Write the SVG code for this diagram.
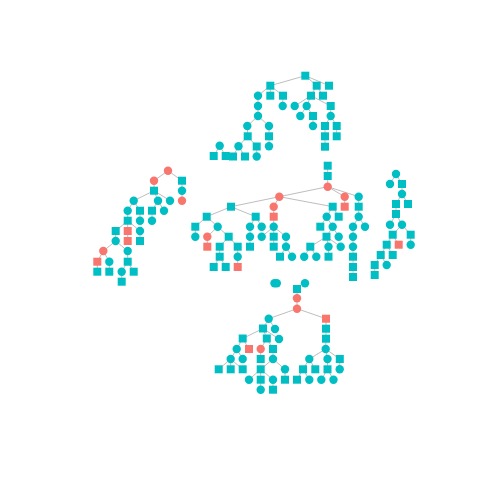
<svg xmlns="http://www.w3.org/2000/svg" width="480" height="480" viewBox="0 0 480 480">
<style>
.t{fill:#00BFC4}
.r{fill:#F8766D}
#edges line{stroke:#BEBEBE;stroke-width:1}
</style>
<rect width="480" height="480" fill="#FFFFFF"/>
<g id="edges">
<line x1="305.3" y1="75.7" x2="270.3" y2="85.7"/><line x1="305.3" y1="75.7" x2="316.7" y2="85.7"/><line x1="305.3" y1="75.7" x2="329" y2="85.7"/>
<line x1="270.3" y1="85.7" x2="258" y2="95.7"/><line x1="270.3" y1="85.7" x2="270.3" y2="95.7"/><line x1="270.3" y1="85.7" x2="283" y2="95.7"/>
<line x1="316.7" y1="85.7" x2="311" y2="95.7"/><line x1="316.7" y1="85.7" x2="323" y2="95.7"/>
<line x1="258" y1="95.7" x2="258" y2="106"/><line x1="283" y1="95.7" x2="282.7" y2="106"/>
<line x1="311" y1="95.7" x2="294.7" y2="106"/><line x1="311" y1="95.7" x2="306.7" y2="106"/><line x1="311" y1="95.7" x2="330.7" y2="106"/>
<line x1="258" y1="106" x2="258" y2="116"/><line x1="306.7" y1="106" x2="300.3" y2="116"/><line x1="306.7" y1="106" x2="313" y2="116"/>
<line x1="330.7" y1="106" x2="330.7" y2="116"/><line x1="258" y1="116" x2="247.3" y2="126"/><line x1="258" y1="116" x2="269" y2="126"/>
<line x1="313" y1="116" x2="313" y2="126"/><line x1="330.7" y1="116" x2="325" y2="126"/><line x1="330.7" y1="116" x2="336.7" y2="126"/>
<line x1="247.3" y1="126" x2="247.7" y2="136.3"/><line x1="269" y1="126" x2="269" y2="136.3"/><line x1="325" y1="126" x2="325" y2="136.3"/><line x1="336.7" y1="126" x2="336.7" y2="136.3"/>
<line x1="247.7" y1="136.3" x2="238.5" y2="146.2"/><line x1="247.7" y1="136.3" x2="256.7" y2="146.5"/><line x1="269" y1="136.3" x2="269" y2="146.3"/><line x1="325" y1="136.3" x2="325" y2="146.7"/>
<line x1="238.5" y1="146.2" x2="233" y2="156.5"/><line x1="238.5" y1="146.2" x2="245" y2="156.5"/><line x1="256.7" y1="146.5" x2="256.7" y2="156.5"/>
<line x1="219.7" y1="145.8" x2="213.7" y2="156"/><line x1="219.7" y1="145.8" x2="225.7" y2="156"/>
<line x1="168" y1="170.7" x2="154" y2="180.7"/><line x1="168" y1="170.7" x2="182" y2="180.7"/><line x1="154" y1="180.7" x2="154" y2="190.7"/>
<line x1="182" y1="180.7" x2="182" y2="190.7"/><line x1="182" y1="190.7" x2="182" y2="200.7"/>
<line x1="154" y1="190.7" x2="133.7" y2="200.7"/><line x1="154" y1="190.7" x2="158" y2="200.7"/><line x1="154" y1="190.7" x2="170" y2="200.7"/>
<line x1="133.7" y1="200.7" x2="127.7" y2="210.7"/><line x1="133.7" y1="200.7" x2="140" y2="210.7"/><line x1="158" y1="200.7" x2="152" y2="210.7"/><line x1="158" y1="200.7" x2="164" y2="210.7"/>
<line x1="127.7" y1="210.7" x2="127.7" y2="220.7"/><line x1="140" y1="210.7" x2="140" y2="220.7"/><line x1="152" y1="210.7" x2="152" y2="220.7"/>
<line x1="127.7" y1="220.7" x2="115.7" y2="231"/><line x1="127.7" y1="220.7" x2="127.7" y2="231"/><line x1="127.7" y1="220.7" x2="140" y2="231"/>
<line x1="115.7" y1="231" x2="115.7" y2="241"/><line x1="127.7" y1="231" x2="127.7" y2="241"/><line x1="140" y1="231" x2="140" y2="241"/>
<line x1="115.7" y1="241" x2="103.3" y2="251"/><line x1="115.7" y1="241" x2="127.7" y2="251"/>
<line x1="103.3" y1="251" x2="97.3" y2="261.7"/><line x1="103.3" y1="251" x2="109.3" y2="261.7"/><line x1="127.7" y1="251" x2="127.7" y2="261.7"/>
<line x1="97.3" y1="261.7" x2="97.3" y2="271.7"/><line x1="109.3" y1="261.7" x2="109.3" y2="271.7"/><line x1="127.7" y1="261.7" x2="121.7" y2="271.7"/><line x1="127.7" y1="261.7" x2="133.7" y2="271.7"/>
<line x1="121.7" y1="271.7" x2="121.7" y2="281.7"/>
<line x1="327.7" y1="165.7" x2="327.7" y2="176"/><line x1="327.7" y1="176" x2="327.7" y2="186.7"/>
<line x1="327.7" y1="186.7" x2="279.3" y2="196.7"/><line x1="327.7" y1="186.7" x2="344.7" y2="196.7"/><line x1="327.7" y1="186.7" x2="358.7" y2="196.7"/>
<line x1="279.3" y1="196.7" x2="231" y2="206.7"/><line x1="279.3" y1="196.7" x2="273.7" y2="206.7"/><line x1="279.3" y1="196.7" x2="332.7" y2="206.7"/>
<line x1="344.7" y1="196.7" x2="344.7" y2="206.7"/><line x1="358.7" y1="196.7" x2="358.7" y2="206.7"/><line x1="358.7" y1="206.7" x2="358.7" y2="216.7"/>
<line x1="358.7" y1="216.7" x2="353" y2="226.7"/><line x1="358.7" y1="216.7" x2="365" y2="226.7"/>
<line x1="353" y1="226.7" x2="353" y2="277"/>
<line x1="231" y1="206.7" x2="206.7" y2="216.7"/><line x1="231" y1="206.7" x2="255.7" y2="216.7"/>
<line x1="206.7" y1="216.7" x2="195.3" y2="226.7"/><line x1="206.7" y1="216.7" x2="217.7" y2="226.7"/><line x1="195.3" y1="226.7" x2="195.3" y2="236.7"/>
<line x1="217.7" y1="226.7" x2="207.3" y2="236.7"/><line x1="217.7" y1="226.7" x2="228.7" y2="236.7"/><line x1="207.3" y1="236.7" x2="207.3" y2="246.7"/>
<line x1="228.7" y1="236.7" x2="219.7" y2="246.7"/><line x1="228.7" y1="236.7" x2="237.7" y2="246.7"/><line x1="219.7" y1="246.7" x2="219.7" y2="256.7"/>
<line x1="219.7" y1="256.7" x2="213.7" y2="267"/><line x1="219.7" y1="256.7" x2="225.7" y2="267"/><line x1="237.7" y1="246.7" x2="237.7" y2="267"/>
<line x1="255.7" y1="216.7" x2="250" y2="226.7"/><line x1="255.7" y1="216.7" x2="261.7" y2="226.7"/><line x1="250" y1="226.7" x2="250" y2="246.7"/>
<line x1="273.7" y1="206.7" x2="273.7" y2="226.7"/>
<line x1="273.7" y1="226.7" x2="261.7" y2="236.7"/><line x1="273.7" y1="226.7" x2="273.7" y2="236.7"/><line x1="273.7" y1="226.7" x2="286" y2="236.7"/>
<line x1="273.7" y1="236.7" x2="273.7" y2="246.7"/><line x1="286" y1="236.7" x2="286" y2="246.7"/>
<line x1="286" y1="246.7" x2="280" y2="256.7"/><line x1="286" y1="246.7" x2="292" y2="256.7"/>
<line x1="332.7" y1="206.7" x2="326.7" y2="216.7"/><line x1="332.7" y1="206.7" x2="338.7" y2="216.7"/>
<line x1="326.7" y1="216.7" x2="320.3" y2="226.7"/><line x1="326.7" y1="216.7" x2="332.7" y2="226.7"/>
<line x1="332.7" y1="226.7" x2="326.5" y2="236.7"/><line x1="332.7" y1="226.7" x2="338.7" y2="236.7"/>
<line x1="326.5" y1="236.7" x2="310.3" y2="246.7"/><line x1="326.5" y1="236.7" x2="328.5" y2="246.7"/><line x1="326.5" y1="236.7" x2="340.7" y2="246.7"/>
<line x1="310.3" y1="246.7" x2="304.2" y2="256.7"/><line x1="310.3" y1="246.7" x2="316.3" y2="256.7"/><line x1="328.5" y1="246.7" x2="328.5" y2="256.7"/>
<line x1="396" y1="174" x2="390" y2="184"/><line x1="396" y1="174" x2="402" y2="184"/><line x1="402" y1="184" x2="402" y2="194"/>
<line x1="402" y1="194" x2="396" y2="204"/><line x1="402" y1="194" x2="408" y2="204"/><line x1="396" y1="204" x2="396" y2="214"/>
<line x1="396" y1="214" x2="390" y2="224.7"/><line x1="396" y1="214" x2="402" y2="224.7"/>
<line x1="402" y1="224.7" x2="392.7" y2="234.7"/><line x1="402" y1="224.7" x2="410.7" y2="234.7"/>
<line x1="392.7" y1="234.7" x2="386.7" y2="244.7"/><line x1="392.7" y1="234.7" x2="398.7" y2="244.7"/><line x1="410.7" y1="234.7" x2="410.7" y2="244.7"/>
<line x1="386.7" y1="244.7" x2="380.7" y2="255"/><line x1="386.7" y1="244.7" x2="392.7" y2="255"/>
<line x1="380.7" y1="255" x2="374.7" y2="265"/><line x1="380.7" y1="255" x2="386.7" y2="265"/><line x1="374.7" y1="265" x2="374.7" y2="275"/>
<line x1="297" y1="289" x2="297" y2="308.7"/>
<line x1="297" y1="308.7" x2="268.7" y2="318.7"/><line x1="297" y1="308.7" x2="326" y2="318.7"/>
<line x1="268.7" y1="318.7" x2="263" y2="328.5"/><line x1="268.7" y1="318.7" x2="275" y2="329"/>
<line x1="263" y1="328.5" x2="242.7" y2="338.5"/><line x1="263" y1="328.5" x2="266.8" y2="338.5"/><line x1="263" y1="328.5" x2="279" y2="339"/>
<line x1="242.7" y1="338.5" x2="236.7" y2="349"/><line x1="242.7" y1="338.5" x2="249" y2="349"/>
<line x1="266.8" y1="338.5" x2="260.7" y2="349"/><line x1="266.8" y1="338.5" x2="273" y2="349"/>
<line x1="236.7" y1="349" x2="230.7" y2="359"/><line x1="236.7" y1="349" x2="242.7" y2="359"/>
<line x1="230.7" y1="359" x2="218.7" y2="369.3"/><line x1="230.7" y1="359" x2="230.7" y2="369.3"/><line x1="230.7" y1="359" x2="242.7" y2="369.3"/>
<line x1="260.7" y1="349" x2="260.7" y2="359"/><line x1="273" y1="349" x2="273" y2="359"/>
<line x1="273" y1="359" x2="260.7" y2="369.3"/><line x1="273" y1="359" x2="285" y2="369.3"/>
<line x1="260.7" y1="369.3" x2="249" y2="379.7"/><line x1="260.7" y1="369.3" x2="260.7" y2="379.7"/><line x1="260.7" y1="369.3" x2="273" y2="379.7"/>
<line x1="260.7" y1="379.7" x2="260.7" y2="389.7"/><line x1="273" y1="379.7" x2="273" y2="389.7"/><line x1="285" y1="369.3" x2="285" y2="379.7"/>
<line x1="326" y1="318.7" x2="326" y2="338.7"/><line x1="326" y1="338.7" x2="325.7" y2="349"/>
<line x1="325.7" y1="349" x2="309.3" y2="359"/><line x1="325.7" y1="349" x2="327.5" y2="359"/><line x1="325.7" y1="349" x2="339.8" y2="359"/>
<line x1="309.3" y1="359" x2="303" y2="369.3"/><line x1="309.3" y1="359" x2="315.3" y2="369.3"/>
<line x1="303" y1="369.3" x2="297" y2="379.7"/><line x1="303" y1="369.3" x2="309.3" y2="379.7"/>
<line x1="327.5" y1="359" x2="327.5" y2="369.3"/><line x1="327.5" y1="369.3" x2="321.3" y2="379.7"/><line x1="327.5" y1="369.3" x2="333.5" y2="379.7"/>
<line x1="339.8" y1="359" x2="339.7" y2="369.3"/>
</g>
<g id="A1"><rect class="t" x="301.3" y="71.7" width="8" height="8"/></g>
<g id="A2"><rect class="t" x="266.3" y="81.7" width="8" height="8"/></g>
<g id="A3"><rect class="t" x="312.7" y="81.7" width="8" height="8"/></g>
<g id="A4"><rect class="t" x="325" y="81.7" width="8" height="8"/></g>
<g id="A5"><circle class="t" cx="258" cy="95.7" r="4.2"/></g>
<g id="A6"><rect class="t" x="266.3" y="91.7" width="8" height="8"/></g>
<g id="A7"><rect class="t" x="279" y="91.7" width="8" height="8"/></g>
<g id="A8"><rect class="t" x="307" y="91.7" width="8" height="8"/></g>
<g id="A9"><rect class="t" x="319" y="91.7" width="8" height="8"/></g>
<g id="A10"><circle class="t" cx="258" cy="106" r="4.2"/></g>
<g id="A11"><circle class="t" cx="282.7" cy="106" r="4.2"/></g>
<g id="A12"><circle class="t" cx="294.7" cy="106" r="4.2"/></g>
<g id="A13"><circle class="t" cx="306.7" cy="106" r="4.2"/></g>
<g id="A14"><rect class="t" x="326.7" y="102" width="8" height="8"/></g>
<g id="A15"><circle class="t" cx="258" cy="116" r="4.2"/></g>
<g id="A16"><circle class="t" cx="300.3" cy="116" r="4.2"/></g>
<g id="A17"><rect class="t" x="309" y="112" width="8" height="8"/></g>
<g id="A18"><circle class="t" cx="330.7" cy="116" r="4.2"/></g>
<g id="A19"><circle class="t" cx="247.3" cy="126" r="4.2"/></g>
<g id="A20"><circle class="t" cx="269" cy="126" r="4.2"/></g>
<g id="A21"><circle class="t" cx="313" cy="126" r="4.2"/></g>
<g id="A22"><rect class="t" x="321" y="122" width="8" height="8"/></g>
<g id="A23"><rect class="t" x="332.7" y="122" width="8" height="8"/></g>
<g id="A24"><rect class="t" x="243.7" y="132.3" width="8" height="8"/></g>
<g id="A25"><rect class="t" x="265" y="132.3" width="8" height="8"/></g>
<g id="A26"><rect class="t" x="321" y="132.3" width="8" height="8"/></g>
<g id="A27"><rect class="t" x="332.7" y="132.3" width="8" height="8"/></g>
<g id="A28"><circle class="t" cx="238.5" cy="146.2" r="4.2"/></g>
<g id="A29"><rect class="t" x="252.7" y="142.5" width="8" height="8"/></g>
<g id="A30"><circle class="t" cx="269" cy="146.3" r="4.2"/></g>
<g id="A31"><rect class="t" x="321" y="142.7" width="8" height="8"/></g>
<g id="A32"><rect class="t" x="229" y="152.5" width="8" height="8"/></g>
<g id="A33"><rect class="t" x="241" y="152.5" width="8" height="8"/></g>
<g id="A34"><circle class="t" cx="256.7" cy="156.5" r="4.2"/></g>
<g id="B1"><circle class="t" cx="219.7" cy="145.8" r="4.2"/></g>
<g id="B2"><rect class="t" x="209.7" y="152" width="8" height="8"/></g>
<g id="B3"><rect class="t" x="221.7" y="152" width="8" height="8"/></g>
<g id="C1"><circle class="r" cx="168" cy="170.7" r="4.2"/></g>
<g id="C2"><circle class="r" cx="154" cy="180.7" r="4.2"/></g>
<g id="C3"><rect class="t" x="178" y="176.7" width="8" height="8"/></g>
<g id="C4"><rect class="t" x="150" y="186.7" width="8" height="8"/></g>
<g id="C5"><circle class="t" cx="182" cy="190.7" r="4.2"/></g>
<g id="C6"><circle class="t" cx="133.7" cy="200.7" r="4.2"/></g>
<g id="C7"><circle class="t" cx="158" cy="200.7" r="4.2"/></g>
<g id="C8"><circle class="t" cx="170" cy="200.7" r="4.2"/></g>
<g id="C9"><circle class="r" cx="182" cy="200.7" r="4.2"/></g>
<g id="C10"><circle class="t" cx="127.7" cy="210.7" r="4.2"/></g>
<g id="C11"><rect class="t" x="136" y="206.7" width="8" height="8"/></g>
<g id="C12"><rect class="t" x="148" y="206.7" width="8" height="8"/></g>
<g id="C13"><circle class="t" cx="164" cy="210.7" r="4.2"/></g>
<g id="C14"><rect class="t" x="123.7" y="216.7" width="8" height="8"/></g>
<g id="C15"><circle class="t" cx="140" cy="220.7" r="4.2"/></g>
<g id="C16"><circle class="t" cx="152" cy="220.7" r="4.2"/></g>
<g id="C17"><rect class="t" x="111.7" y="227" width="8" height="8"/></g>
<g id="C18"><rect class="r" x="123.7" y="227" width="8" height="8"/></g>
<g id="C19"><circle class="t" cx="140" cy="231" r="4.2"/></g>
<g id="C20"><circle class="t" cx="115.7" cy="241" r="4.2"/></g>
<g id="C21"><rect class="r" x="123.7" y="237" width="8" height="8"/></g>
<g id="C22"><rect class="t" x="136" y="237" width="8" height="8"/></g>
<g id="C23"><circle class="r" cx="103.3" cy="251" r="4.2"/></g>
<g id="C24"><circle class="t" cx="127.7" cy="251" r="4.2"/></g>
<g id="C25"><rect class="r" x="93.3" y="257.7" width="8" height="8"/></g>
<g id="C26"><circle class="t" cx="109.3" cy="261.7" r="4.2"/></g>
<g id="C27"><rect class="t" x="123.7" y="257.7" width="8" height="8"/></g>
<g id="C28"><rect class="t" x="93.3" y="267.7" width="8" height="8"/></g>
<g id="C29"><rect class="t" x="105.3" y="267.7" width="8" height="8"/></g>
<g id="C30"><circle class="t" cx="121.7" cy="271.7" r="4.2"/></g>
<g id="C31"><rect class="t" x="129.7" y="267.7" width="8" height="8"/></g>
<g id="C32"><rect class="t" x="117.7" y="277.7" width="8" height="8"/></g>
<g id="D1"><rect class="t" x="323.7" y="161.7" width="8" height="8"/></g>
<g id="D2"><rect class="t" x="323.7" y="172" width="8" height="8"/></g>
<g id="D3"><circle class="r" cx="327.7" cy="186.7" r="4.2"/></g>
<g id="D4"><circle class="r" cx="279.3" cy="196.7" r="4.2"/></g>
<g id="D5"><circle class="r" cx="344.7" cy="196.7" r="4.2"/></g>
<g id="D6"><circle class="t" cx="358.7" cy="196.7" r="4.2"/></g>
<g id="D7"><rect class="t" x="227" y="202.7" width="8" height="8"/></g>
<g id="D8"><circle class="r" cx="273.7" cy="206.7" r="4.2"/></g>
<g id="D9"><rect class="t" x="328.7" y="202.7" width="8" height="8"/></g>
<g id="D10"><rect class="r" x="340.7" y="202.7" width="8" height="8"/></g>
<g id="D11"><rect class="t" x="354.7" y="202.7" width="8" height="8"/></g>
<g id="D12"><rect class="t" x="202.7" y="212.7" width="8" height="8"/></g>
<g id="D13"><rect class="t" x="251.7" y="212.7" width="8" height="8"/></g>
<g id="D14"><rect class="r" x="269.7" y="212.7" width="8" height="8"/></g>
<g id="D15"><circle class="t" cx="326.7" cy="216.7" r="4.2"/></g>
<g id="D16"><rect class="t" x="334.7" y="212.7" width="8" height="8"/></g>
<g id="D17"><circle class="t" cx="358.7" cy="216.7" r="4.2"/></g>
<g id="D18"><rect class="t" x="191.3" y="222.7" width="8" height="8"/></g>
<g id="D19"><circle class="t" cx="217.7" cy="226.7" r="4.2"/></g>
<g id="D20"><circle class="t" cx="250" cy="226.7" r="4.2"/></g>
<g id="D21"><circle class="t" cx="261.7" cy="226.7" r="4.2"/></g>
<g id="D22"><circle class="t" cx="273.7" cy="226.7" r="4.2"/></g>
<g id="D23"><rect class="t" x="316.3" y="222.7" width="8" height="8"/></g>
<g id="D24"><circle class="t" cx="332.7" cy="226.7" r="4.2"/></g>
<g id="D25"><circle class="t" cx="353" cy="226.7" r="4.2"/></g>
<g id="D26"><circle class="t" cx="365" cy="226.7" r="4.2"/></g>
<g id="D27"><circle class="t" cx="195.3" cy="236.7" r="4.2"/></g>
<g id="D28"><circle class="r" cx="207.3" cy="236.7" r="4.2"/></g>
<g id="D29"><rect class="t" x="224.7" y="232.7" width="8" height="8"/></g>
<g id="D30"><circle class="t" cx="250" cy="236.7" r="4.2"/></g>
<g id="D31"><circle class="t" cx="261.7" cy="236.7" r="4.2"/></g>
<g id="D32"><rect class="t" x="269.7" y="232.7" width="8" height="8"/></g>
<g id="D33"><circle class="t" cx="286" cy="236.7" r="4.2"/></g>
<g id="D34"><rect class="t" x="322.5" y="232.7" width="8" height="8"/></g>
<g id="D35"><circle class="t" cx="338.7" cy="236.7" r="4.2"/></g>
<g id="D36"><circle class="t" cx="353" cy="236.7" r="4.2"/></g>
<g id="D37"><rect class="r" x="203.3" y="242.7" width="8" height="8"/></g>
<g id="D38"><rect class="t" x="215.7" y="242.7" width="8" height="8"/></g>
<g id="D39"><rect class="t" x="233.7" y="242.7" width="8" height="8"/></g>
<g id="D40"><rect class="t" x="246" y="242.7" width="8" height="8"/></g>
<g id="D41"><rect class="t" x="269.7" y="242.7" width="8" height="8"/></g>
<g id="D42"><circle class="t" cx="286" cy="246.7" r="4.2"/></g>
<g id="D43"><rect class="t" x="306.3" y="242.7" width="8" height="8"/></g>
<g id="D44"><circle class="t" cx="328.5" cy="246.7" r="4.2"/></g>
<g id="D45"><circle class="t" cx="340.7" cy="246.7" r="4.2"/></g>
<g id="D46"><circle class="t" cx="353" cy="246.7" r="4.2"/></g>
<g id="D47"><rect class="t" x="215.7" y="252.7" width="8" height="8"/></g>
<g id="D48"><circle class="t" cx="237.7" cy="256.7" r="4.2"/></g>
<g id="D49"><rect class="t" x="276" y="252.7" width="8" height="8"/></g>
<g id="D50"><circle class="t" cx="292" cy="256.7" r="4.2"/></g>
<g id="D51"><circle class="t" cx="304.2" cy="256.7" r="4.2"/></g>
<g id="D52"><circle class="t" cx="316.3" cy="256.7" r="4.2"/></g>
<g id="D53"><rect class="t" x="324.5" y="252.7" width="8" height="8"/></g>
<g id="D54"><rect class="t" x="349" y="252.7" width="8" height="8"/></g>
<g id="D55"><rect class="t" x="209.7" y="263" width="8" height="8"/></g>
<g id="D56"><rect class="t" x="221.7" y="263" width="8" height="8"/></g>
<g id="D57"><rect class="r" x="233.7" y="263" width="8" height="8"/></g>
<g id="D58"><rect class="t" x="349" y="263" width="8" height="8"/></g>
<g id="D59"><rect class="t" x="349" y="273" width="8" height="8"/></g>
<g id="E1"><circle class="t" cx="396" cy="174" r="4.2"/></g>
<g id="E2"><circle class="t" cx="390" cy="184" r="4.2"/></g>
<g id="E3"><rect class="t" x="398" y="180" width="8" height="8"/></g>
<g id="E4"><circle class="t" cx="402" cy="194" r="4.2"/></g>
<g id="E5"><rect class="t" x="392" y="200" width="8" height="8"/></g>
<g id="E6"><rect class="t" x="404" y="200" width="8" height="8"/></g>
<g id="E7"><rect class="t" x="392" y="210" width="8" height="8"/></g>
<g id="E8"><circle class="t" cx="390" cy="224.7" r="4.2"/></g>
<g id="E9"><circle class="t" cx="402" cy="224.7" r="4.2"/></g>
<g id="E10"><rect class="t" x="388.7" y="230.7" width="8" height="8"/></g>
<g id="E11"><rect class="t" x="406.7" y="230.7" width="8" height="8"/></g>
<g id="E12"><rect class="t" x="382.7" y="240.7" width="8" height="8"/></g>
<g id="E13"><rect class="r" x="394.7" y="240.7" width="8" height="8"/></g>
<g id="E14"><circle class="t" cx="410.7" cy="244.7" r="4.2"/></g>
<g id="E15"><rect class="t" x="376.7" y="251" width="8" height="8"/></g>
<g id="E16"><rect class="t" x="388.7" y="251" width="8" height="8"/></g>
<g id="E17"><rect class="t" x="370.7" y="261" width="8" height="8"/></g>
<g id="E18"><circle class="t" cx="386.7" cy="265" r="4.2"/></g>
<g id="E19"><rect class="t" x="370.7" y="271" width="8" height="8"/></g>
<g id="F0a"><circle class="t" cx="274.5" cy="283.3" r="4.2"/></g>
<g id="F0b"><circle class="t" cx="276.8" cy="283.3" r="4.2"/></g>
<g id="F1"><circle class="t" cx="305" cy="283.3" r="4.2"/></g>
<g id="F2"><rect class="t" x="293" y="285" width="8" height="8"/></g>
<g id="F3"><circle class="r" cx="297" cy="298.3" r="4.2"/></g>
<g id="F4"><circle class="r" cx="297" cy="308.7" r="4.2"/></g>
<g id="F5"><circle class="t" cx="268.7" cy="318.7" r="4.2"/></g>
<g id="F6"><rect class="r" x="322" y="314.7" width="8" height="8"/></g>
<g id="F7"><rect class="t" x="259" y="324.5" width="8" height="8"/></g>
<g id="F8"><circle class="t" cx="275" cy="329" r="4.2"/></g>
<g id="F9"><rect class="t" x="322" y="324.7" width="8" height="8"/></g>
<g id="F10"><rect class="t" x="238.7" y="334.5" width="8" height="8"/></g>
<g id="F11"><rect class="t" x="262.8" y="334.5" width="8" height="8"/></g>
<g id="F12"><circle class="t" cx="279" cy="339" r="4.2"/></g>
<g id="F13"><rect class="t" x="322" y="334.7" width="8" height="8"/></g>
<g id="F14"><circle class="t" cx="236.7" cy="349" r="4.2"/></g>
<g id="F15"><rect class="r" x="245" y="345" width="8" height="8"/></g>
<g id="F16"><circle class="r" cx="260.7" cy="349" r="4.2"/></g>
<g id="F17"><rect class="t" x="269" y="345" width="8" height="8"/></g>
<g id="F18"><circle class="t" cx="325.7" cy="349" r="4.2"/></g>
<g id="F19"><circle class="t" cx="230.7" cy="359" r="4.2"/></g>
<g id="F20"><circle class="t" cx="242.7" cy="359" r="4.2"/></g>
<g id="F21"><rect class="t" x="256.7" y="355" width="8" height="8"/></g>
<g id="F22"><circle class="t" cx="273" cy="359" r="4.2"/></g>
<g id="F23"><circle class="t" cx="309.3" cy="359" r="4.2"/></g>
<g id="F24"><circle class="t" cx="327.5" cy="359" r="4.2"/></g>
<g id="F25"><rect class="t" x="335.8" y="355" width="8" height="8"/></g>
<g id="F26"><rect class="t" x="214.7" y="365.3" width="8" height="8"/></g>
<g id="F27"><rect class="t" x="226.7" y="365.3" width="8" height="8"/></g>
<g id="F28"><rect class="t" x="238.7" y="365.3" width="8" height="8"/></g>
<g id="F29"><rect class="t" x="256.7" y="365.3" width="8" height="8"/></g>
<g id="F30"><circle class="t" cx="285" cy="369.3" r="4.2"/></g>
<g id="F31"><rect class="t" x="299" y="365.3" width="8" height="8"/></g>
<g id="F32"><rect class="t" x="311.3" y="365.3" width="8" height="8"/></g>
<g id="F33"><rect class="t" x="323.5" y="365.3" width="8" height="8"/></g>
<g id="F34"><circle class="t" cx="339.7" cy="369.3" r="4.2"/></g>
<g id="F35"><circle class="t" cx="249" cy="379.7" r="4.2"/></g>
<g id="F36"><rect class="t" x="256.7" y="375.7" width="8" height="8"/></g>
<g id="F37"><circle class="t" cx="273" cy="379.7" r="4.2"/></g>
<g id="F38"><rect class="t" x="281" y="375.7" width="8" height="8"/></g>
<g id="F39"><rect class="t" x="293" y="375.7" width="8" height="8"/></g>
<g id="F40"><circle class="t" cx="309.3" cy="379.7" r="4.2"/></g>
<g id="F41"><circle class="t" cx="321.3" cy="379.7" r="4.2"/></g>
<g id="F42"><circle class="t" cx="333.5" cy="379.7" r="4.2"/></g>
<g id="F43"><circle class="t" cx="260.7" cy="389.7" r="4.2"/></g>
<g id="F44"><rect class="t" x="269" y="385.7" width="8" height="8"/></g>
</svg>
